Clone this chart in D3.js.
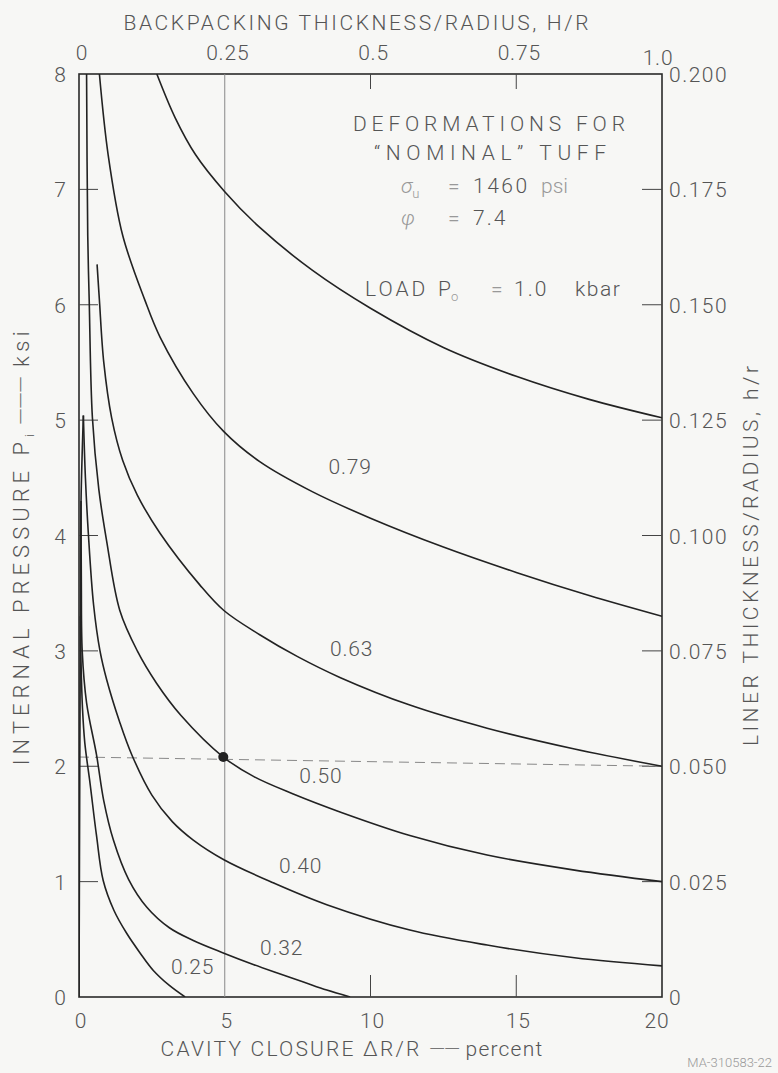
<!DOCTYPE html>
<html><head><meta charset="utf-8">
<script src="https://cdn.jsdelivr.net/npm/d3@7"></script>
<style>
html,body{margin:0;padding:0;background:#f7f7f5;}
svg{display:block;}
text{font-family:Roboto,"Liberation Sans",Arial,sans-serif;font-weight:300;fill:#555;}
</style></head>
<body>
<svg id="c" width="778" height="1073"></svg>
<script>
// ---- data ----
const bottomTicks = [0, 5, 10, 15, 20];
const leftTicks = [0, 1, 2, 3, 4, 5, 6, 7, 8];
const topTicks = [0, 0.25, 0.5, 0.75, 1.0];
const topTickLabels = ["0", "0.25", "0.5", "0.75", "1.0"];
const rightTicks = [0, 0.025, 0.05, 0.075, 0.1, 0.125, 0.15, 0.175, 0.2];
const rightTickLabels = ["0", "0.025", "0.050", "0.075", "0.100", "0.125", "0.150", "0.175", "0.200"];

// curves: [closure %, pressure ksi]
const curveTop = [[2.67,8],[3.3,7.62],[4,7.3],[5,6.98],[6.2,6.67],[8,6.3],[10,5.97],[12.5,5.63],[15,5.38],[17.5,5.18],[20,5.02]];
const curve079 = [[0.7,8],[1.0,7.3],[1.5,6.6],[2.26,6.04],[2.78,5.72],[3.92,5.23],[4.97,4.9],[6.2,4.64],[8,4.38],[10,4.15],[12.5,3.9],[15,3.68],[17.5,3.48],[20,3.3]];
const curve063 = [[0.62,6.35],[0.7,6.04],[0.85,5.5],[1.12,5.02],[1.5,4.65],[2.0,4.35],[2.78,4.02],[4.15,3.57],[4.97,3.35],[6.2,3.14],[7.5,2.95],[8.95,2.77],[11.35,2.53],[14,2.33],[17,2.15],[20,2.0]];
const curve050 = [[0.26,8],[0.3,6.6],[0.35,6.04],[0.46,5.02],[0.68,4.4],[0.95,3.95],[1.4,3.35],[2.0,3.0],[2.66,2.72],[3.5,2.44],[4.95,2.08],[6,1.91],[7.35,1.76],[9,1.6],[11.35,1.4],[14,1.23],[17,1.1],[20,1.0]];
const curve040 = [[0.15,5.04],[0.22,4.5],[0.32,4.02],[0.5,3.4],[0.72,3.0],[0.95,2.75],[1.4,2.38],[1.81,2.1],[2.5,1.75],[3.2,1.52],[3.92,1.36],[4.97,1.19],[6.66,0.99],[8.5,0.8],[11.35,0.58],[14,0.45],[17,0.34],[20,0.27]];
const curve032 = [[0.07,4.3],[0.08,3.6],[0.11,3.0],[0.26,2.55],[0.6,2.1],[0.85,1.7],[1.18,1.36],[1.7,1.02],[2.32,0.78],[3.1,0.6],[3.92,0.49],[4.97,0.38],[6.0,0.28],[6.78,0.21],[7.7,0.13],[8.5,0.06],[9.3,0]];
const curve025 = [[0.05,3.3],[0.07,2.9],[0.12,2.5],[0.2,2.2],[0.38,1.85],[0.6,1.4],[0.83,1.01],[1.2,0.75],[1.64,0.55],[2.1,0.38],[2.55,0.23],[3.1,0.1],[3.64,0]];
const elastic = [[0,0],[0.03,2.2],[0.05,3.3],[0.07,4.3],[0.15,5.04]];
const curveLabels = [["0.79",9.3,4.58],["0.63",9.35,3.0],["0.50",8.3,1.9],["0.40",7.6,1.12],["0.32",6.95,0.41],["0.25",3.9,0.25]];
const refX = 5;           // vertical reference line, closure %
const refP = 2.08;        // horizontal reference line, ksi
const refPoint = [4.95, 2.08];

// ---- layout ----
const L = 79, R = 662, T = 74, B = 997;
const svg = d3.select("#c");
const x = d3.scaleLinear().domain([0, 20]).range([L, R]);
const y = d3.scaleLinear().domain([0, 8]).range([B, T]);
const xTop = d3.scaleLinear().domain([0, 1]).range([L, R]);
const yR = d3.scaleLinear().domain([0, 0.2]).range([B, T]);

svg.append("defs").append("clipPath").attr("id","clip")
  .append("rect").attr("x",L).attr("y",T).attr("width",R-L).attr("height",B-T);

const ink = "#2a2a2a";
const g = svg.append("g");

// frame
g.append("rect").attr("x",L).attr("y",T).attr("width",R-L).attr("height",B-T)
  .attr("fill","none").attr("stroke",ink).attr("stroke-width",1.6);

// inner ticks
g.selectAll(".lt").data(leftTicks.filter(d=>d>0&&d<8)).join("line")
  .attr("x1",L).attr("x2",L+19).attr("y1",d=>y(d)).attr("y2",d=>y(d))
  .attr("stroke","#444").attr("stroke-width",1);
g.selectAll(".rt").data(rightTicks.filter(d=>d>0&&d<0.2)).join("line")
  .attr("x1",R-20).attr("x2",R).attr("y1",d=>yR(d)).attr("y2",d=>yR(d))
  .attr("stroke","#444").attr("stroke-width",1);
g.selectAll(".tt").data([0.5,0.75]).join("line")
  .attr("x1",d=>xTop(d)).attr("x2",d=>xTop(d)).attr("y1",T).attr("y2",T+15)
  .attr("stroke","#444").attr("stroke-width",1);
g.selectAll(".bt").data([10,15]).join("line")
  .attr("x1",d=>x(d)).attr("x2",d=>x(d)).attr("y1",B).attr("y2",B-22)
  .attr("stroke","#444").attr("stroke-width",1);

// reference lines
g.append("line").attr("x1",x(refX)).attr("x2",x(refX)).attr("y1",T).attr("y2",B)
  .attr("stroke","#888").attr("stroke-width",1);
g.append("line").attr("x1",x(0)).attr("x2",x(20)).attr("y1",y(refP)).attr("y2",y(2.0))
  .attr("stroke","#888").attr("stroke-width",1).attr("stroke-dasharray","10,6");

// curves
const line = d3.line().x(d=>x(d[0])).y(d=>y(d[1])).curve(d3.curveCatmullRom.alpha(0.5));
const cg = g.append("g").attr("clip-path","url(#clip)");
[curveTop,curve079,curve063,curve050,curve040,curve032,curve025,elastic].forEach(c=>{
  cg.append("path").attr("d",line(c)).attr("fill","none").attr("stroke","#222").attr("stroke-width",1.6);
});
g.append("circle").attr("cx",x(refPoint[0])).attr("cy",y(refPoint[1])).attr("r",5).attr("fill","#222");

// curve labels
const fs = 21;
g.selectAll(".cl").data(curveLabels).join("text")
  .attr("x",d=>x(d[1])).attr("y",d=>y(d[2])).attr("text-anchor","middle").attr("dominant-baseline","middle")
  .attr("font-size",fs).attr("letter-spacing",0.8).text(d=>d[0]);

// tick labels
g.selectAll(".ll").data(leftTicks).join("text")
  .attr("x",L-13).attr("y",d=>y(d)+8).attr("text-anchor","end").attr("font-size",fs).text(d=>d);
g.selectAll(".rl").data(rightTicks).join("text")
  .attr("x",R+7).attr("y",(d,i)=>yR(d)+8).attr("font-size",fs).attr("letter-spacing",1.5).text((d,i)=>rightTickLabels[i]);
g.selectAll(".tl").data(topTicks).join("text")
  .attr("x",(d,i)=> i===4 ? xTop(d)-4 : xTop(d)+3).attr("y",(d,i)=> i===4 ? T-9 : T-14).attr("text-anchor","middle")
  .attr("font-size",fs).attr("letter-spacing",0.8).text((d,i)=>topTickLabels[i]);
g.selectAll(".bl").data(bottomTicks).join("text")
  .attr("x",(d,i)=> i===4 ? x(d)-5 : x(d)+2).attr("y",B+31).attr("text-anchor","middle")
  .attr("font-size",fs).attr("letter-spacing",0.8).text(d=>d);

// axis titles
g.append("text").attr("x",356).attr("y",30).attr("text-anchor","middle").attr("font-size",21)
  .attr("textLength",465).attr("lengthAdjust","spacing").text("BACKPACKING THICKNESS/RADIUS, H/R");
const bt = g.append("text").attr("x",352).attr("y",1056).attr("text-anchor","middle").attr("font-size",21);
bt.append("tspan").attr("letter-spacing",2.2).text("CAVITY CLOSURE \u0394R/R ");
bt.append("tspan").attr("letter-spacing",-1).style("fill","#777").text("\u2014\u2014");
bt.append("tspan").attr("letter-spacing",1.2).text(" percent");
const lt = g.append("text").attr("transform","translate(29,546) rotate(-90)").attr("text-anchor","middle")
  .attr("font-size",22);
lt.append("tspan").attr("letter-spacing",5).text("INTERNAL PRESSURE P");
lt.append("tspan").attr("font-size",12).attr("dy",5).text("i");
lt.append("tspan").attr("dy",-5).attr("letter-spacing",4).text("  ");
lt.append("tspan").attr("letter-spacing",-1).style("fill","#777").text("\u2014\u2014\u2014");
lt.append("tspan").attr("letter-spacing",4.5).text("  ksi");
g.append("text").attr("transform","translate(758,556) rotate(-90)").attr("text-anchor","middle")
  .attr("font-size",21).attr("textLength",380).attr("lengthAdjust","spacing").text("LINER THICKNESS/RADIUS, h/r");
g.append("text").attr("x",772).attr("y",1067).attr("text-anchor","end").attr("font-size",13)
  .style("fill","#999").text("MA-310583-22");

// annotation
const ann = g.append("g");
ann.append("text").attr("x",489).attr("y",131).attr("text-anchor","middle").attr("font-size",21)
  .attr("textLength",272).attr("lengthAdjust","spacing").text("DEFORMATIONS FOR");
ann.append("text").attr("x",490).attr("y",160).attr("text-anchor","middle").attr("font-size",21)
  .attr("textLength",232).attr("lengthAdjust","spacing").text("\u201CNOMINAL\u201D TUFF");
const s1 = ann.append("text").attr("x",401).attr("y",193).attr("font-size",21);
s1.append("tspan").style("font-style","italic").style("fill","#999").text("\u03C3");
s1.append("tspan").attr("font-size",13).attr("dy",5).style("fill","#999").text("u");
s1.append("tspan").attr("dy",-5).attr("x",448).style("fill","#999").text("=");
s1.append("tspan").attr("x",473).attr("letter-spacing",2.5).text("1460");
s1.append("tspan").attr("x",541).style("fill","#999").text("psi");
const s2 = ann.append("text").attr("x",401).attr("y",225).attr("font-size",21);
s2.append("tspan").style("font-style","italic").style("fill","#999").text("\u03C6");
s2.append("tspan").attr("x",448).style("fill","#999").text("=");
s2.append("tspan").attr("x",473).attr("letter-spacing",2).text("7.4");
const s3 = ann.append("text").attr("y",296).attr("font-size",21);
s3.append("tspan").attr("x",365).attr("letter-spacing",3).text("LOAD");
s3.append("tspan").attr("x",438).text("P");
s3.append("tspan").attr("font-size",13).attr("dy",5).style("fill","#999").text("o");
s3.append("tspan").attr("dy",-5).attr("x",491).style("fill","#999").text("=");
s3.append("tspan").attr("x",514).attr("letter-spacing",2).text("1.0");
s3.append("tspan").attr("x",575).attr("letter-spacing",1.5).text("kbar");
</script>
</body></html>
